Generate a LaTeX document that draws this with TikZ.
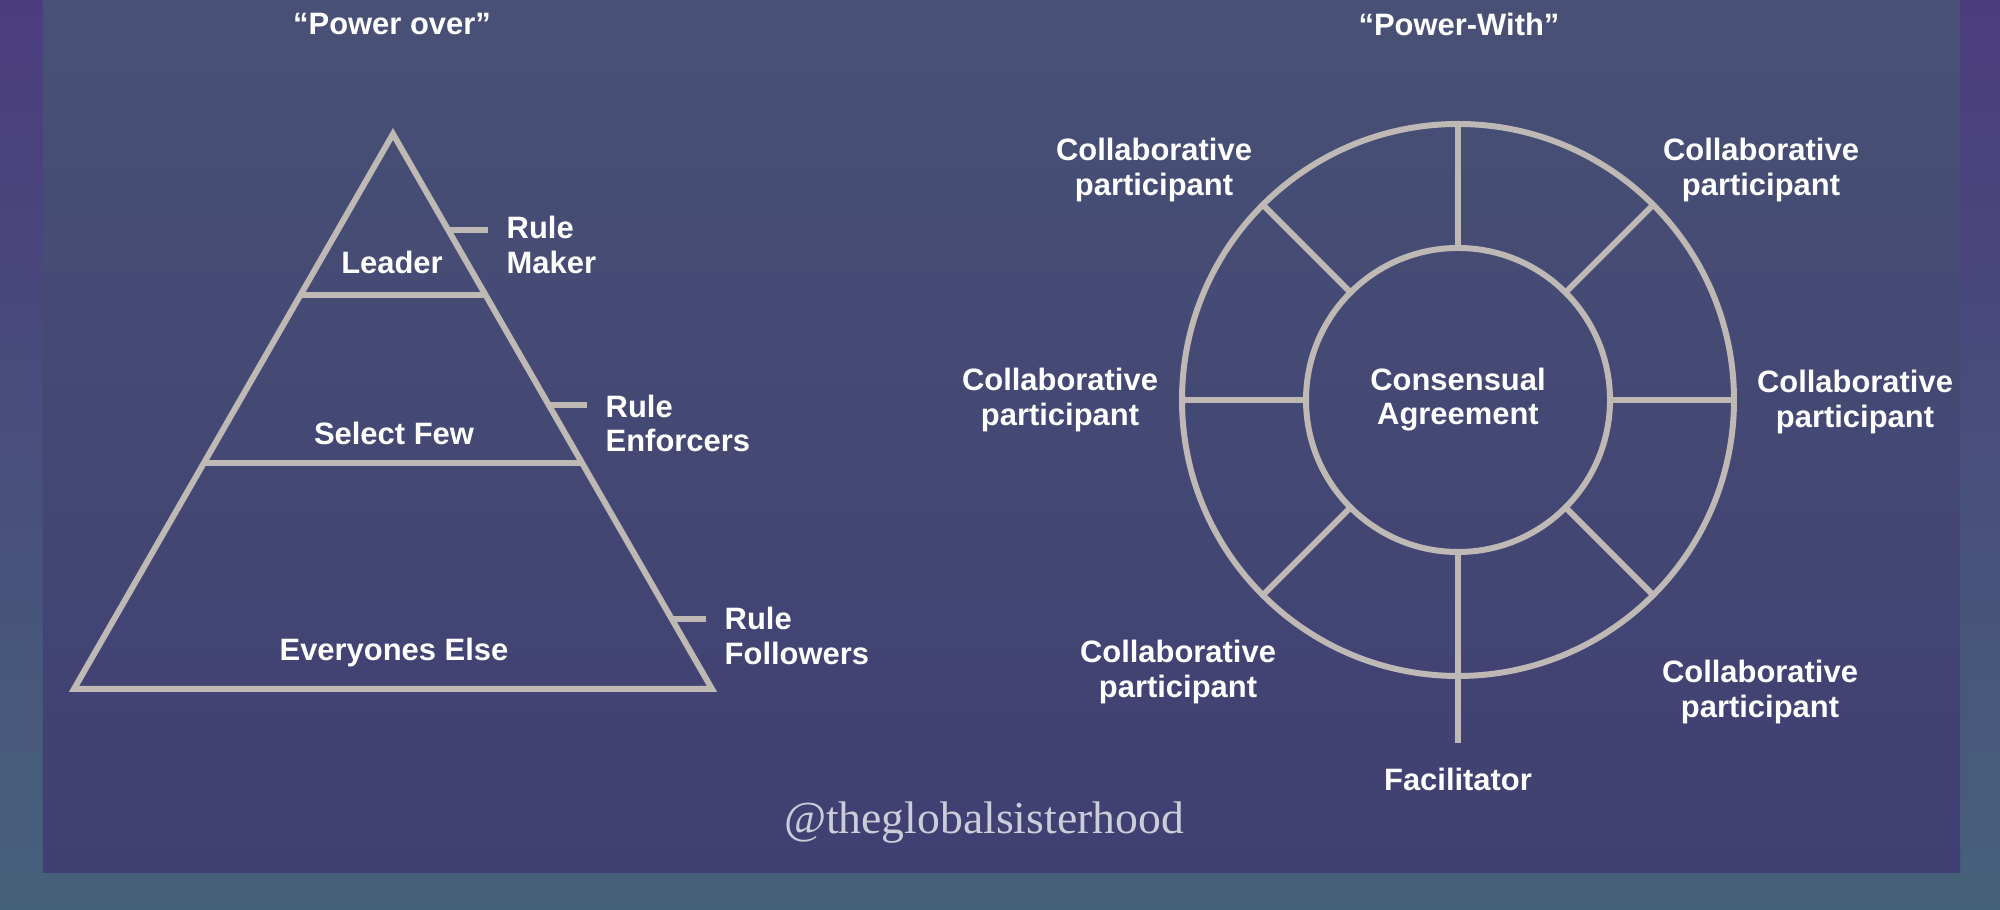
\documentclass[tikz,border=0pt]{standalone}
\usepackage{fontspec}
\setmainfont{Liberation Sans}
\newfontfamily\markfont{Liberation Serif}
\usetikzlibrary{calc,positioning}
\definecolor{frameteal}{HTML}{46617A}
\definecolor{framepurple}{HTML}{4B3C7E}
\definecolor{slatetop}{HTML}{485175}
\definecolor{slatebot}{HTML}{403F72}
\definecolor{chalk}{HTML}{BEB9B5}
\definecolor{markgray}{HTML}{CDCDDA}
\tikzset{
  chalkline/.style={draw=chalk, line width=1.7pt},
  caption/.style={
    text=white, inner sep=0pt, align=center,
    font=\fontsize{8.8}{9.7}\selectfont\bfseries
  },
  sidenote/.style={caption, align=left, anchor=west},
  ring/.style={chalkline, circle, outer sep=0pt, inner sep=0pt},
  handle/.style={text=markgray, inner sep=0pt, font=\markfont\fontsize{13}{15}\selectfont}
}

\begin{document}
\begin{tikzpicture}
  % backdrop
  \shade[top color=framepurple, bottom color=frameteal] (0,0) rectangle (20,9.1);
  \shade[top color=slatetop, bottom color=slatebot] (0.43,0.37) rectangle (19.60,9.1);
  \useasboundingbox (0,0) rectangle (20,9.1);

  % power over
  \node[caption] (ttlover) at (3.92,8.86) {“Power over”};
  \coordinate (apex) at (3.93,7.76);
  \coordinate (bl) at (0.74,2.21);
  \coordinate (br) at (7.12,2.21);
  \draw[chalkline] (apex) -- (br) -- (bl) -- cycle;
  \draw[chalkline] ($(apex)!0.29!(bl)$) -- ($(apex)!0.29!(br)$);
  \draw[chalkline] ($(apex)!0.593!(bl)$) -- ($(apex)!0.593!(br)$);
  \node[caption] (leader) at (3.92,6.48) {Leader};
  \node[caption] (few) at (3.94,4.77) {Select Few};
  \node[caption] (rest) at (3.94,2.57) {Everyones Else};

  \coordinate (mkpt) at ($(apex)!0.173!(br)$);
  \coordinate (enpt) at ($(apex)!0.488!(br)$);
  \coordinate (fopt) at ($(apex)!0.874!(br)$);
  \node[sidenote] (maker) at (5.06,6.65) {Rule\\Maker};
  \node[sidenote] (enforcers) at (6.05,4.865) {Rule\\Enforcers};
  \node[sidenote] (followers) at (7.24,2.74) {Rule\\Followers};
  \draw[chalkline, shorten >=0.18cm] (mkpt) -- (mkpt -| maker.west);
  \draw[chalkline, shorten >=0.18cm] (enpt) -- (enpt -| enforcers.west);
  \draw[chalkline, shorten >=0.18cm] (fopt) -- (fopt -| followers.west);

  % power with
  \node[caption] (ttlwith) at (14.59,8.86) {“Power-With”};
  \node[ring, minimum size=5.52cm] (outer) at (14.58,5.10) {};
  \node[ring, caption, minimum size=3.04cm] (inner) at (14.58,5.10) {Consensual\\Agreement};
  \foreach \a in {0,45,...,225,315}
    \draw[chalkline] (inner.\a) -- (outer.\a);
  \coordinate (facend) at (14.58,1.67);
  \draw[chalkline] (inner.270) -- (facend);
  \node[caption] (facil) at (14.58,1.31) {Facilitator};

  \node[caption] (ptl) at (11.54,7.40) {Collaborative\\participant};
  \node[caption] (ptr) at (17.61,7.40) {Collaborative\\participant};
  \node[caption] (pl) at (10.60,5.10) {Collaborative\\participant};
  \node[caption] (pr) at (18.55,5.08) {Collaborative\\participant};
  \node[caption] (pbl) at (11.78,2.38) {Collaborative\\participant};
  \node[caption] (pbr) at (17.60,2.18) {Collaborative\\participant};

  \node[handle] (tag) at (9.84,0.87) {@theglobalsisterhood};
\end{tikzpicture}
\end{document}
